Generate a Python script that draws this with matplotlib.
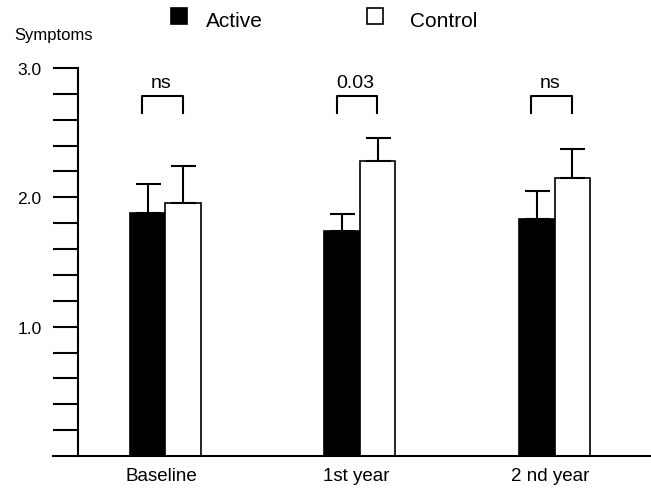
import matplotlib
matplotlib.use('Agg')
import matplotlib.pyplot as plt
import numpy as np

from matplotlib.patches import Rectangle

plt.rcParams['font.family'] = ['Liberation Sans', 'DejaVu Sans']

GROUPS = ['Baseline', '1st year', '2 nd year']
SERIES = ['Active', 'Control']
ACTIVE = [1.88, 1.74, 1.83]
ACTIVE_ERR = [0.22, 0.13, 0.22]
CONTROL = [1.96, 2.28, 2.15]
CONTROL_ERR = [0.28, 0.18, 0.22]
P_LABELS = ['ns', '0.03', 'ns']
Y_MAJOR = [1.0, 2.0, 3.0]

# figure size in pixels
W, H = 651, 489


def px(x, y):
    # pixel (from top left) -> figure fraction
    return x / W, 1 - y / H


def main() -> None:
    fig = plt.figure(figsize=(W / 100, H / 100), dpi=100)
    ax = fig.add_axes([53 / W, 1 - 457 / H, 1 - 53 / W, (457 - 69) / H])

    x = np.arange(len(GROUPS))
    width = 0.1825
    err_kw = dict(ecolor='black', elinewidth=1.5, capsize=9, capthick=1.5)

    ax.bar(x - width / 2, ACTIVE, width, color='black', edgecolor='black',
           linewidth=1.2, yerr=[np.zeros(len(ACTIVE)), ACTIVE_ERR],
           error_kw=err_kw)
    ax.bar(x + width / 2, CONTROL, width, color='white', edgecolor='black',
           linewidth=1.2, yerr=[np.zeros(len(CONTROL)), CONTROL_ERR],
           error_kw=err_kw)

    # significance brackets
    for i, label in enumerate(P_LABELS):
        x0, x1 = i - 0.12, i + 0.09
        ax.plot([x0, x0, x1, x1], [2.65, 2.78, 2.78, 2.65],
                color='black', lw=1.5, clip_on=False)
        ax.text((x0 + x1) / 2 - 0.01, 2.85, label, ha='center',
                va='baseline', fontsize=14)

    ax.set_xlim(-0.578, 2.496)
    ax.set_ylim(0, 3)

    for side in ('top', 'right'):
        ax.spines[side].set_visible(False)
    ax.spines['left'].set_position(('data', -0.452))
    ax.spines['left'].set_bounds(0, 3)
    ax.spines['left'].set_linewidth(1.5)
    ax.spines['bottom'].set_linewidth(1.5)

    ax.set_yticks(Y_MAJOR)
    ax.set_yticklabels([f'{v:.1f}' for v in Y_MAJOR])
    ax.set_yticks(np.arange(0.2, 3.0, 0.2), minor=True)
    ax.tick_params(axis='y', which='both', direction='out', length=18,
                   width=1.5, pad=8, labelsize=12.5)

    ax.set_xticks(x - 0.02)
    ax.set_xticklabels(GROUPS)
    ax.tick_params(axis='x', length=0, pad=8, labelsize=13.5)

    fig.text(*px(14, 40), 'Symptoms', fontsize=12, ha='left', va='baseline')

    # legend drawn by hand
    for (sx, tx), name, fc in zip([(171, 206), (367, 410)], SERIES,
                                  ['black', 'white']):
        fig.add_artist(Rectangle(px(sx, 25), 16 / W, 16 / H,
                                 transform=fig.transFigure, facecolor=fc,
                                 edgecolor='black', linewidth=1.2))
        fig.text(*px(tx, 27), name, fontsize=15, ha='left', va='baseline')

    fig.savefig('out.png', dpi=100)


if __name__ == '__main__':
    main()
